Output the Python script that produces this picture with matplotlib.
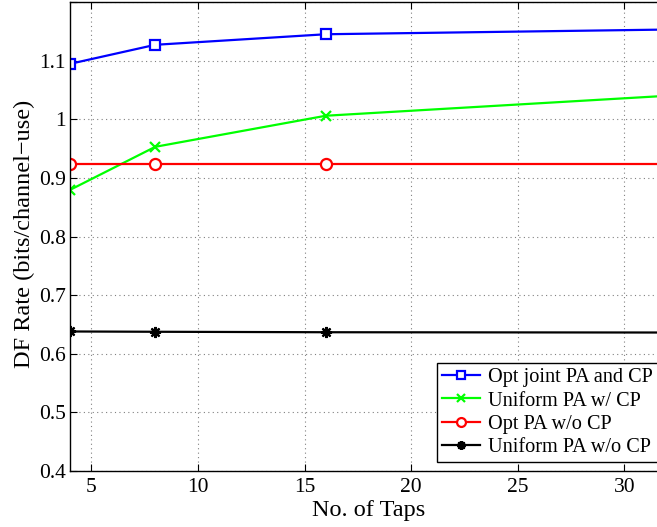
import numpy as np
import matplotlib.pyplot as plt

plt.rcParams['font.family'] = ['Liberation Serif', 'DejaVu Serif']

# data
taps = [4, 8, 16, 32]
opt_joint = [1.0945, 1.127, 1.145, 1.153]
uniform_cp = [0.8795, 0.953, 1.006, 1.040]
opt_nocp = [0.923, 0.923, 0.923, 0.923]
uniform_nocp = [0.638, 0.6375, 0.6367, 0.6362]

xticks = [5, 10, 15, 20, 25, 30]
yticks = [0.4, 0.5, 0.6, 0.7, 0.8, 0.9, 1.0, 1.1, 1.2]
ytick_labels = ['0.4', '0.5', '0.6', '0.7', '0.8', '0.9', '1', '1.1', '']

fig = plt.figure(figsize=(6.57, 5.27), dpi=100)
# axes runs past the right edge, as in the (cropped) reference
ax = fig.add_axes([70/657, 56/527, 597/657, 469/527])

ax.plot(taps, opt_joint, color='blue', lw=1.6, marker='s', ms=7.5,
        mfc='white', mec='blue', mew=1.6, label='Opt joint PA and CP')
ax.plot(taps, uniform_cp, color='#00ff00', lw=1.6, marker='x', ms=7,
        mew=1.6, label='Uniform PA w/ CP')
ax.plot(taps, opt_nocp, color='red', lw=1.6, marker='o', ms=8,
        mfc='white', mec='red', mew=1.6, label='Opt PA w/o CP')
ax.plot(taps, uniform_nocp, color='black', lw=1.6, marker=(8, 2, 0), ms=8,
        mew=1.6, label='Uniform PA w/o CP')

ax.set_xlim(4, 32)
ax.set_ylim(0.4, 1.2)
ax.set_xticks(xticks)
ax.set_yticks(yticks)
ax.set_yticklabels(ytick_labels)
ax.tick_params(axis='y', pad=3)
ax.tick_params(axis='x', pad=5)
ax.tick_params(direction='in', top=True, right=True, labelsize=15.5,
               length=5, width=0.8)
ax.grid(True, linestyle=(0, (1, 3)), color='0.5', lw=0.8)
for s in ax.spines.values():
    s.set_linewidth(1.0)

ax.set_xlabel('No. of Taps', fontsize=17.5, labelpad=2)
ax.set_ylabel('DF Rate (bits/channel\u2212use)', fontsize=17.5)
ax.yaxis.set_label_coords(-0.058, 0.505)

leg = ax.legend(loc='lower left', bbox_to_anchor=(0.615, 0.019), fontsize=14.6,
                handlelength=1.85, handletextpad=0.4, labelspacing=0.2,
                borderpad=0.25, borderaxespad=0, fancybox=False,
                framealpha=1, edgecolor='black', markerscale=0.8)
leg.get_frame().set_linewidth(1.0)

fig.savefig('out.png', dpi=100)
